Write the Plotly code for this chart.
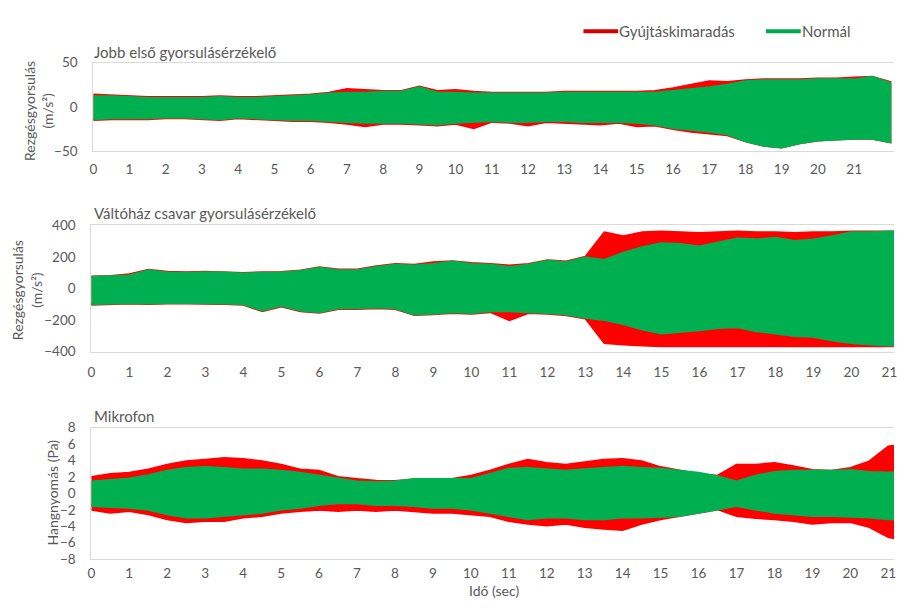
import plotly.graph_objects as go

# ---------------- data (envelopes) ----------------
# Top: Jobb első gyorsulásérzékelő, t = 0 .. 22 step 0.5
t1 = [i * 0.5 for i in range(45)]
norm_up1 = [12, 12, 11, 10, 10, 10, 10, 11, 10, 10, 11, 12, 13, 15, 16, 16, 17, 17, 22, 16,
            16, 15, 15, 15, 15, 15, 16, 16, 16, 16, 16, 16, 18, 20, 22, 25, 29, 30, 30, 30,
            31, 31, 31, 34, 27]
norm_lo1 = [-14, -13, -13, -13, -12, -12, -13, -14, -12, -13, -14, -15, -15, -16, -17, -18, -18, -18, -19, -20,
            -18, -17, -16, -17, -17, -16, -16, -17, -17, -17, -18, -20, -24, -26, -28, -31, -39, -44, -46, -41,
            -38, -37, -36, -36, -40]
miss_up1 = [14, 13, 12, 11, 11, 11, 11, 12, 11, 11, 12, 13, 14, 16, 20, 19, 18, 18, 23, 18,
            19, 17, 16, 16, 16, 16, 17, 17, 17, 17, 17, 18, 21, 25, 29, 28, 30, 31, 31, 31,
            32, 32, 33, 34, 28]
miss_lo1 = [-15, -14, -14, -14, -13, -13, -14, -15, -13, -14, -15, -16, -16, -17, -19, -22, -19, -19, -20, -21,
            -19, -24, -17, -18, -21, -17, -18, -19, -20, -18, -22, -21, -25, -28, -30, -32, -39, -44, -46, -41,
            -38, -37, -36, -36, -40]

# Middle: Váltóház csavar gyorsulásérzékelő, t = 0 .. 21.5 step 0.5
t2 = [i * 0.5 for i in range(44)]
norm_up2 = [72, 75, 82, 115, 100, 98, 102, 100, 95, 98, 100, 110, 130, 115, 115, 135, 150, 145, 155, 170,
            155, 150, 135, 150, 175, 165, 195, 180, 225, 260, 285, 280, 265, 290, 315, 310, 320, 300, 310, 330,
            355, 355, 360, 360]
norm_lo2 = [-100, -95, -92, -95, -92, -90, -92, -95, -100, -140, -110, -140, -150, -125, -125, -120, -125, -165, -160, -150,
            -155, -145, -145, -150, -155, -165, -185, -200, -225, -260, -285, -275, -265, -250, -245, -270, -285, -300, -305, -330,
            -345, -355, -360, -360]
miss_up2 = [75, 78, 90, 118, 105, 102, 105, 103, 98, 102, 104, 114, 134, 120, 120, 140, 155, 150, 165, 172,
            160, 155, 145, 155, 178, 170, 200, 355, 330, 355, 360, 355, 350, 355, 360, 355, 355, 350, 355, 355,
            360, 360, 360, 360]
miss_lo2 = [-104, -99, -96, -99, -96, -95, -96, -99, -104, -144, -115, -144, -154, -130, -130, -125, -130, -168, -164, -155,
            -160, -150, -200, -155, -160, -170, -190, -345, -355, -360, -365, -365, -365, -365, -365, -365, -362, -362, -362, -362,
            -365, -365, -365, -365]

# Bottom: Mikrofon, t = 0 .. 21.5 step 0.5
t3 = [i * 0.5 for i in range(44)]
norm_up3 = [1.45, 1.6, 1.8, 2.2, 2.75, 3.1, 3.2, 3.1, 2.9, 2.9, 2.75, 2.5, 2.15, 1.75, 1.45, 1.35, 1.45, 1.75, 1.75, 1.7,
            1.75, 2.35, 3.0, 3.1, 2.95, 2.75, 2.95, 3.1, 3.25, 3.1, 3.0, 2.75, 2.5, 2.1, 1.45, 2.15, 2.6, 2.75, 2.75, 2.75,
            2.85, 2.6, 2.55, 2.5]
norm_lo3 = [-1.55, -1.65, -1.75, -2.0, -2.55, -2.95, -2.95, -2.75, -2.55, -2.35, -1.95, -1.75, -1.4, -1.2, -1.2, -1.4, -1.4, -1.55, -1.75, -1.75,
            -1.95, -2.35, -2.75, -3.15, -2.95, -2.95, -3.15, -3.15, -2.95, -2.95, -2.85, -2.75, -2.35, -1.95, -1.55, -1.95, -2.35, -2.55, -2.75, -2.75,
            -2.85, -2.95, -3.15, -3.2]
miss_up3 = [2.0, 2.35, 2.5, 2.9, 3.5, 3.9, 4.1, 4.3, 4.2, 3.9, 3.5, 2.9, 2.75, 2.0, 1.75, 1.55, 1.5, 1.7, 1.75, 1.75,
            2.15, 2.75, 3.5, 4.1, 3.7, 3.5, 3.8, 4.1, 4.2, 3.9, 3.2, 2.75, 2.35, 2.15, 3.5, 3.5, 3.7, 3.3, 2.85, 2.75,
            3.1, 3.9, 5.7, 6.0]
miss_lo3 = [-2.0, -2.35, -2.15, -2.55, -3.15, -3.5, -3.35, -3.35, -2.95, -2.75, -2.35, -2.15, -2.0, -2.15, -2.0, -2.15, -2.0, -2.15, -2.35, -2.35,
            -2.55, -2.75, -3.35, -3.7, -3.9, -3.7, -4.1, -4.3, -4.45, -3.7, -3.15, -2.75, -2.35, -1.95, -2.75, -3.0, -3.15, -3.35, -3.7, -3.5,
            -3.5, -4.1, -5.3, -5.8]

series_names = ["Gyújtáskimaradás", "Normál"]
panel_titles = ["Jobb első gyorsulásérzékelő", "Váltóház csavar gyorsulásérzékelő", "Mikrofon"]
y_titles = ["Rezgésgyorsulás<br>(m/s²)", "Rezgésgyorsulás<br>(m/s²)", "Hangnyomás (Pa)"]
x_title = "Idő (sec)"
x_ticks = list(range(0, 22))
y_ticks = [[-50, 0, 50], [-400, -200, 0, 200, 400], [-8, -6, -4, -2, 0, 2, 4, 6, 8]]

# ---------------- styling ----------------
RED = "#FF0000"
GREEN = "#00B050"
TXT = "#595959"
FONT = "Lato"
W, H = 897, 608

def py(px):
    return 1 - px / H

panels = [
    dict(t=t1, mu=miss_up1, ml=miss_lo1, nu=norm_up1, nl=norm_lo1,
         x0=90, top=56, bot=147, xr=[0, 22.1], yr=[-50, 50], xs=6),
    dict(t=t2, mu=miss_up2, ml=miss_lo2, nu=norm_up2, nl=norm_lo2,
         x0=88, top=223, bot=353, xr=[0, 21.12], yr=[-400, 400], xs=8),
    dict(t=t3, mu=miss_up3, ml=miss_lo3, nu=norm_up3, nl=norm_lo3,
         x0=88, top=431, bot=566, xr=[0, 21.15], yr=[-8, 8], xs=2),
]

fig = go.Figure()
layout = dict(width=W, height=H, margin=dict(l=0, r=0, t=0, b=0),
              paper_bgcolor="white", plot_bgcolor="white",
              font=dict(family=FONT, color=TXT, size=14), showlegend=False)

for i, p in enumerate(panels):
    k = "" if i == 0 else str(i + 1)
    xa, ya = "x" + k, "y" + k
    for up, lo, col in [(p["mu"], p["ml"], RED), (p["nu"], p["nl"], GREEN)]:
        xs = list(p["t"]) + list(p["t"])[::-1]
        ys = list(up) + list(lo)[::-1]
        fig.add_trace(go.Scatter(x=xs, y=ys, xaxis=xa, yaxis=ya, mode="lines",
                                 fill="toself", fillcolor=col,
                                 line=dict(color=col, width=2),
                                 hoverinfo="skip", showlegend=False))
    layout["xaxis" + k] = dict(domain=[p["x0"] / W, 1], range=p["xr"], anchor=ya,
                               tickvals=x_ticks, showgrid=False, zeroline=False,
                               showline=True, mirror=True, linecolor="#D9D9D9", linewidth=1,
                               ticks="", tickfont=dict(size=13.5, color=TXT),
                               ticklabelstandoff=p["xs"], ticklabeloverflow="allow")
    layout["yaxis" + k] = dict(domain=[py(p["bot"]), py(p["top"])], range=p["yr"], anchor=xa,
                               tickvals=y_ticks[i], showgrid=False, zeroline=False,
                               showline=True, linecolor="#D9D9D9", linewidth=1,
                               ticks="", tickfont=dict(size=13.5, color=TXT),
                               ticklabelstandoff=12)

fig.update_layout(**layout)

ann = []
# panel titles
for title, y in zip(panel_titles, [45, 211, 419]):
    ann.append(dict(text=title, x=89 / W, y=py(y), xref="paper", yref="paper",
                    xanchor="left", yanchor="middle", showarrow=False,
                    font=dict(size=15, color=TXT, family=FONT)))
# y titles
for title, x, y in zip(y_titles, [34, 23, 49], [106, 290, 498]):
    ann.append(dict(text=title, x=x / W, y=py(y), xref="paper", yref="paper",
                    xanchor="center", yanchor="middle", showarrow=False, textangle=-90,
                    font=dict(size=14, color=TXT, family=FONT)))
# x title
ann.append(dict(text=x_title, x=494 / W, y=0, xref="paper", yref="paper",
                xanchor="center", yanchor="bottom", showarrow=False, borderpad=0,
                font=dict(size=14, color=TXT, family=FONT)))
# legend
shapes = []
for name, col, lx0, lx1 in [(series_names[0], "#D20000", 584, 619), (series_names[1], "#00A651", 768, 803)]:
    shapes.append(dict(type="line", xref="paper", yref="paper", x0=lx0 / W, x1=lx1 / W,
                       y0=py(24), y1=py(24), line=dict(color=col, width=4)))
    ann.append(dict(text=name, x=(lx1 - 1) / W, y=py(24), xref="paper", yref="paper",
                    xanchor="left", yanchor="middle", showarrow=False,
                    font=dict(size=15, color=TXT, family=FONT)))

fig.update_layout(annotations=ann, shapes=shapes)
fig.write_html("out.html")
